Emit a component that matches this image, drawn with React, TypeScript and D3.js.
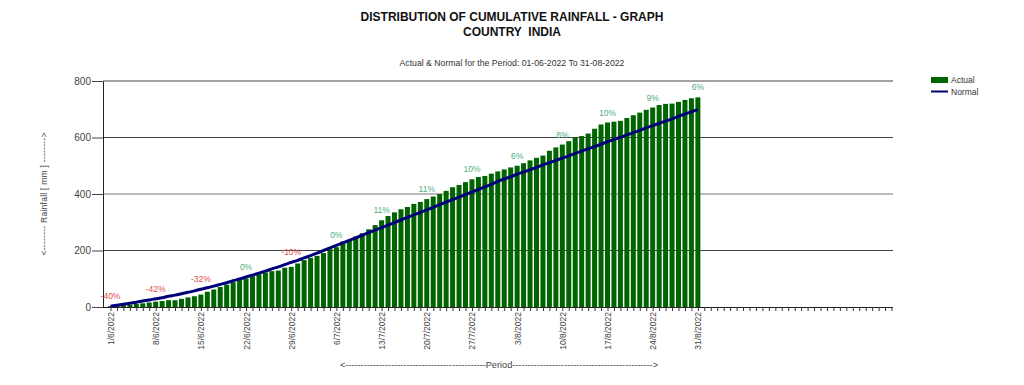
import { useRef, useEffect } from "react";
import * as d3 from "d3";

// cumulative rainfall (mm), 1 Jun 2022 .. 31 Aug 2022
const actual = [
  3, 5, 7, 8, 11, 13, 16, 19, 21, 24, 24, 29, 34, 38, 44, 54, 62, 71, 79, 88,
  95, 101, 109, 116, 122, 127, 129, 139, 142, 154, 166, 174, 181, 191, 205, 212,
  232, 238, 250, 261, 275, 290, 307, 322, 335, 346, 354, 365, 372, 382, 391, 400,
  411, 424, 432, 442, 452, 460, 464, 472, 480, 487, 494, 500, 509, 519, 528, 536,
  553, 565, 575, 587, 600, 605, 614, 631, 646, 653, 656, 659, 669, 679, 688, 698,
  706, 715, 719, 720, 726, 733, 739, 742,
];

const normal = [
  3, 6, 10, 13, 17, 21, 25, 29, 33, 38, 42, 47, 52, 57, 63, 68, 74, 80, 86, 93,
  99, 106, 113, 120, 127, 135, 142, 150, 158, 165, 174, 182, 191, 200, 209, 218,
  227, 236, 245, 254, 263, 272, 281, 290, 299, 308, 317, 326, 335, 344, 353, 362,
  371, 380, 389, 398, 407, 416, 425, 434, 445, 453, 461, 470, 478, 486, 494, 503,
  511, 519, 527, 535, 544, 552, 560, 568, 576, 585, 593, 601, 609, 617, 625, 634,
  642, 650, 658, 666, 675, 683, 691, 699,
];

const tickLabels = [
  "1/6/2022", "8/6/2022", "15/6/2022", "22/6/2022", "29/6/2022", "6/7/2022",
  "13/7/2022", "20/7/2022", "27/7/2022", "3/8/2022", "10/8/2022", "17/8/2022",
  "24/8/2022", "31/8/2022",
];

const pctLabels = [
  "-40%", "-42%", "-32%", "0%", "-10%", "0%", "11%", "11%", "10%", "6%", "8%",
  "10%", "9%", "6%",
];

const yTicks = [0, 200, 400, 600, 800];

// axis runs 1 Jun .. 30 Sep
const days = d3.timeDay.range(new Date(2022, 5, 1), new Date(2022, 9, 1));
const fmt = d3.timeFormat("%-d/%-m/%Y");
const cats = days.map((d) => fmt(d));

export default function App() {
  const svgRef = useRef<SVGSVGElement>(null);

  useEffect(() => {
    if (!svgRef.current) return;
    const svg = d3.select(svgRef.current);
    svg.selectAll("*").remove();

    const left = 103, right = 893, top = 81, bottom = 307;
    const font = "'Liberation Sans', Arial, sans-serif";

    const x = d3.scalePoint<string>().domain(cats).range([110.5, 891.5]);
    const y = d3.scaleLinear().domain([0, 800]).range([bottom, top]);

    // titles
    svg.append("text")
      .attr("x", 512).attr("y", 21)
      .attr("text-anchor", "middle")
      .style("font", `bold 12px ${font}`)
      .attr("fill", "#111")
      .text("DISTRIBUTION OF CUMULATIVE RAINFALL - GRAPH");
    svg.append("text")
      .attr("x", 512).attr("y", 36)
      .attr("text-anchor", "middle")
      .style("font", `bold 12px ${font}`)
      .style("white-space", "pre")
      .attr("fill", "#111")
      .text("COUNTRY  INDIA");
    svg.append("text")
      .attr("x", 512).attr("y", 66)
      .attr("text-anchor", "middle")
      .style("font", `8.7px ${font}`)
      .attr("fill", "#333")
      .text("Actual & Normal for the Period: 01-06-2022 To 31-08-2022");

    // grid
    svg.append("g")
      .selectAll("line")
      .data(yTicks.filter((v) => v > 0))
      .join("line")
      .attr("x1", left).attr("x2", right)
      .attr("y1", (d) => y(d)).attr("y2", (d) => y(d))
      .attr("stroke", (d) => (d === 400 ? "#777" : "#444"))
      .attr("stroke-width", 1);

    // bars
    svg.append("g")
      .selectAll("rect")
      .data(actual)
      .join("rect")
      .attr("x", (_d, i) => (x(cats[i]) as number) - 2.5)
      .attr("width", 5)
      .attr("y", (d) => y(d))
      .attr("height", (d) => bottom - y(d))
      .attr("fill", "#006400");

    // normal line
    const line = d3.line<number>()
      .x((_d, i) => x(cats[i]) as number)
      .y((d) => y(d))
      .curve(d3.curveMonotoneX);
    svg.append("path")
      .datum(normal)
      .attr("d", line)
      .attr("fill", "none")
      .attr("stroke", "#00007a")
      .attr("stroke-width", 3);

    // y axis
    const ya = svg.append("g")
      .attr("transform", `translate(${left},0)`)
      .call(d3.axisLeft(y).tickValues(yTicks).tickSize(11).tickSizeOuter(0));
    ya.select(".domain").attr("stroke", "#222");
    ya.selectAll(".tick line").attr("stroke", "#444");
    ya.selectAll("text")
      .attr("fill", "#444")
      .attr("x", -12)
      .style("font", `10px ${font}`);

    // x axis
    const xa = svg.append("g")
      .attr("transform", `translate(0,${bottom})`)
      .call(
        d3.axisBottom(x)
          .tickSize(4)
          .tickSizeOuter(0)
          .tickFormat((d) => (tickLabels.includes(d) ? d : ""))
      );
    xa.select(".domain").attr("d", `M${left},0.5H${right}`).attr("stroke", "#222");
    xa.selectAll(".tick line").attr("stroke", "#333");
    xa.selectAll("text")
      .attr("transform", "rotate(-90)")
      .attr("x", -5)
      .attr("y", 0)
      .attr("dy", "0.35em")
      .attr("text-anchor", "end")
      .attr("fill", "#444")
      .style("font", `8.5px ${font}`);

    // percentage labels
    svg.append("g")
      .selectAll("text")
      .data(pctLabels)
      .join("text")
      .attr("x", (_d, k) => x(tickLabels[k]) as number)
      .attr("y", (_d, k) => {
        const i = cats.indexOf(tickLabels[k]);
        return y(Math.max(actual[i], normal[i])) - 7;
      })
      .attr("text-anchor", "middle")
      .attr("fill", (d) => (d.startsWith("-") ? "#e0504a" : "#4fae7f"))
      .style("font", `8.5px ${font}`)
      .text((d) => d);

    // axis titles
    svg.append("text")
      .attr("transform", "translate(47,194) rotate(-90)")
      .attr("text-anchor", "middle")
      .attr("textLength", 123)
      .attr("lengthAdjust", "spacing")
      .attr("fill", "#444")
      .style("font", `8.5px ${font}`)
      .text("<-------- Rainfall [ mm ] -------->");
    svg.append("text")
      .attr("x", 499).attr("y", 368)
      .attr("text-anchor", "middle")
      .attr("textLength", 318)
      .attr("lengthAdjust", "spacingAndGlyphs")
      .attr("fill", "#444")
      .style("font", `9px ${font}`)
      .text("<----------------------------------------------Period---------------------------------------------->");

    // legend
    svg.append("rect")
      .attr("x", 931).attr("y", 77).attr("width", 17).attr("height", 6)
      .attr("fill", "#006400");
    svg.append("line")
      .attr("x1", 931).attr("x2", 948).attr("y1", 91.5).attr("y2", 91.5)
      .attr("stroke", "#00007a").attr("stroke-width", 2);
    svg.append("text")
      .attr("x", 951).attr("y", 83)
      .attr("fill", "#333")
      .style("font", `8.5px ${font}`)
      .text("Actual");
    svg.append("text")
      .attr("x", 951).attr("y", 95)
      .attr("fill", "#333")
      .style("font", `8.5px ${font}`)
      .text("Normal");
  }, []);

  return (
    <svg
      ref={svgRef}
      width={1024}
      height={385}
      style={{ position: "absolute", left: 0, top: 0, background: "#fff" }}
    />
  );
}
